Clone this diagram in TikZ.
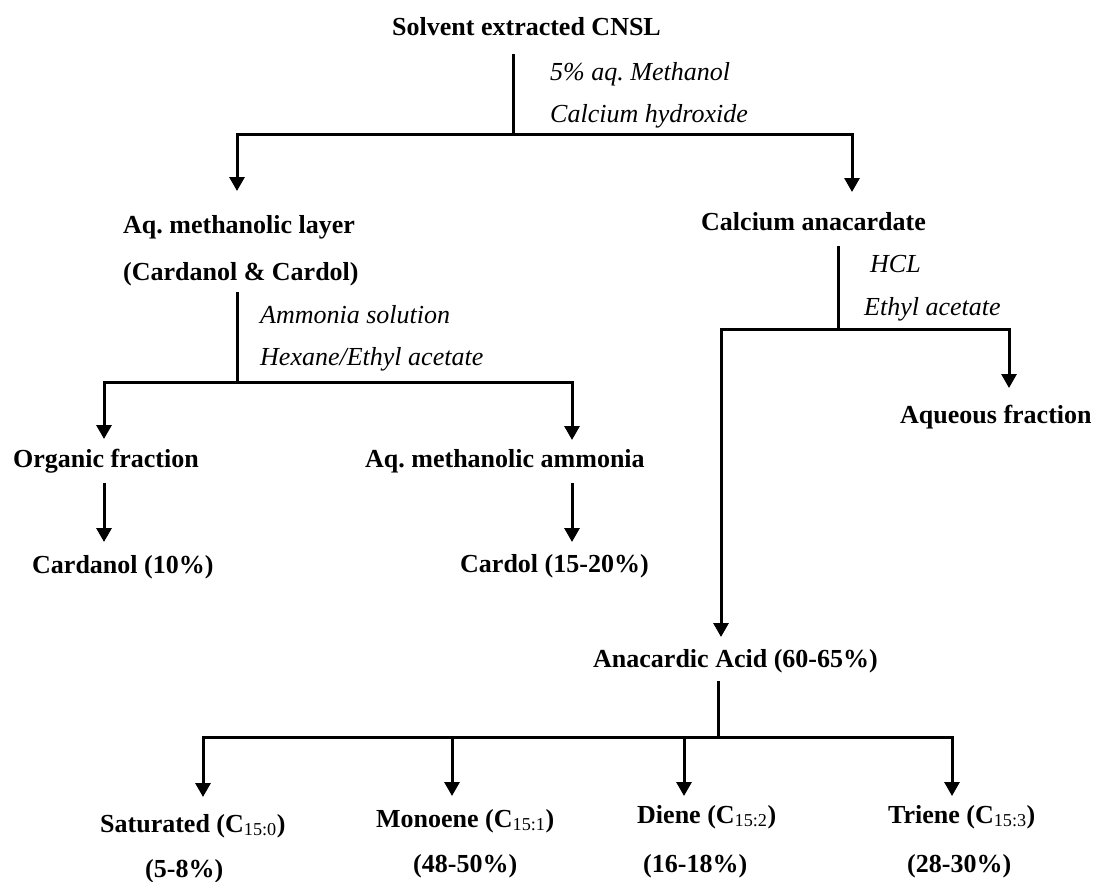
\documentclass[tikz,border=0pt]{standalone}
\usepackage{fontspec}
\setmainfont{Liberation Serif}
\usetikzlibrary{arrows.meta}
\frenchspacing
\begin{document}
\begin{tikzpicture}[x=1pt,y=-1pt,
  lbl/.style={font=\fontsize{26}{30}\selectfont\bfseries, anchor=base west, inner sep=0pt},
  cond/.style={font=\fontsize{26}{30}\selectfont\itshape, anchor=base west, inner sep=0pt},
  ln/.style={line width=3pt, line cap=rect},
  arr/.style={line width=3pt, -{Triangle[width=15pt,length=14pt]}}]
\useasboundingbox (0,0) rectangle (1094,881);
\newcommand\sbs[1]{\textsubscript{\mdseries #1}}
% top
\node[lbl] (src) at (392,35) {Solvent extracted CNSL};
\node[cond] (c1a) at (550,80) {5\% aq. Methanol};
\node[cond] (c1b) at (550,122) {Calcium hydroxide};
\coordinate (s0) at (513,55);
\coordinate (s1) at (513,134);
\coordinate (bl) at (237,134);
\coordinate (br) at (852,134);
\coordinate (tl) at (237,191);
\coordinate (tr) at (852,192);
\draw[ln] (s0) -- (s1);
\draw[ln] (bl) -- (br);
\draw[arr] (bl) -- (tl);
\draw[arr] (br) -- (tr);
% left branch
\node[lbl] (aq) at (123,233) {Aq. methanolic layer};
\node[lbl] (aq2) at (123,280) {(Cardanol \& Cardol)};
\node[cond] (c2a) at (260,323) {Ammonia solution};
\node[cond] (c2b) at (260,365) {Hexane/Ethyl acetate};
\coordinate (a0) at (237,293);
\coordinate (a1) at (237,382);
\coordinate (al) at (104,382);
\coordinate (ar) at (572,382);
\coordinate (alt) at (104,439);
\coordinate (art) at (572,440);
\draw[ln] (a0) -- (a1);
\draw[ln] (al) -- (ar);
\draw[arr] (al) -- (alt);
\draw[arr] (ar) -- (art);
\node[lbl] (org) at (13,467) {Organic fraction};
\node[lbl] (amm) at (365,467) {Aq. methanolic ammonia};
\coordinate (o0) at (104,483);
\coordinate (o1) at (104,542);
\coordinate (m0) at (572,483);
\coordinate (m1) at (572,542);
\draw[arr] (o0) -- (o1);
\draw[arr] (m0) -- (m1);
\node[lbl] (cardanol) at (32,573) {Cardanol (10\%)};
\node[lbl] (cardol) at (460,572) {Cardol (15-20\%)};
% right branch
\node[lbl] (ca) at (701,230) {Calcium anacardate};
\node[cond] (c3a) at (870,272) {HCL};
\node[cond] (c3b) at (864,315) {Ethyl acetate};
\coordinate (k0) at (838,247);
\coordinate (k1) at (838,329);
\coordinate (kl) at (721,329);
\coordinate (kr) at (1009,329);
\coordinate (krt) at (1009,388);
\coordinate (klt) at (721,637);
\draw[ln] (k0) -- (k1);
\draw[ln] (kl) -- (kr);
\draw[arr] (kr) -- (krt);
\draw[arr] (kl) -- (klt);
\node[lbl] (aqf) at (900,423) {Aqueous fraction};
\node[lbl] (ana) at (593,667) {Anacardic Acid (60-65\%)};
% bottom
\coordinate (n0) at (718,682);
\coordinate (n1) at (718,737);
\coordinate (b1) at (203,737);
\coordinate (b2) at (452,737);
\coordinate (b3) at (684,737);
\coordinate (b4) at (952,737);
\coordinate (t1) at (203,797);
\coordinate (t2) at (452,796);
\coordinate (t3) at (684,796);
\coordinate (t4) at (952,796);
\draw[ln] (n0) -- (n1);
\draw[ln] (b1) -- (b4);
\draw[arr] (b1) -- (t1);
\draw[arr] (b2) -- (t2);
\draw[arr] (b3) -- (t3);
\draw[arr] (b4) -- (t4);
\node[lbl] (sat) at (100,832) {Saturated (C\sbs{15:0})};
\node[lbl] (mono) at (376,827) {Monoene (C\sbs{15:1})};
\node[lbl] (di) at (637,823) {Diene (C\sbs{15:2})};
\node[lbl] (tri) at (888,823) {Triene (C\sbs{15:3})};
\node[lbl] (p1) at (145,877) {(5-8\%)};
\node[lbl] (p2) at (413,872) {(48-50\%)};
\node[lbl] (p3) at (643,872) {(16-18\%)};
\node[lbl] (p4) at (907,872) {(28-30\%)};
\end{tikzpicture}
\end{document}
